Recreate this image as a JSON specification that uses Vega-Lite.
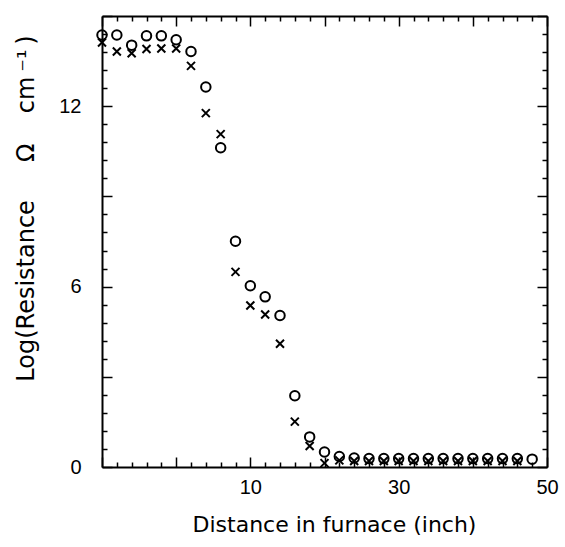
{
  "$schema": "https://vega.github.io/schema/vega-lite/v6.json",
  "width": 445,
  "height": 451,
  "autosize": {"type": "none"},
  "padding": {"left": 102, "top": 16, "right": 18, "bottom": 80},
  "background": "white",
  "config": {
    "view": {"stroke": null},
    "font": "Liberation Sans",
    "axis": {
      "grid": false,
      "domainColor": "black",
      "domainWidth": 2,
      "tickColor": "black",
      "tickWidth": 1.5,
      "labelColor": "black",
      "labelFont": "Liberation Sans",
      "labelFontSize": 20,
      "labelOverlap": false,
      "labelFlush": false,
      "labelBound": false,
      "titleColor": "black",
      "titleFont": "DejaVu Sans",
      "titleFontSize": 22,
      "titleFontWeight": "normal"
    }
  },
  "datasets": {
    "circles": [
      {"x": -10, "y": 14.37}, {"x": -8, "y": 14.37}, {"x": -6, "y": 14.03}, {"x": -4, "y": 14.34},
      {"x": -2, "y": 14.34}, {"x": 0, "y": 14.21}, {"x": 2, "y": 13.82}, {"x": 4, "y": 12.64},
      {"x": 6, "y": 10.62}, {"x": 8, "y": 7.51}, {"x": 10, "y": 6.03}, {"x": 12, "y": 5.66},
      {"x": 14, "y": 5.04}, {"x": 16, "y": 2.37}, {"x": 18, "y": 1.0}, {"x": 20, "y": 0.5},
      {"x": 22, "y": 0.35}, {"x": 24, "y": 0.3}, {"x": 26, "y": 0.28}, {"x": 28, "y": 0.28},
      {"x": 30, "y": 0.28}, {"x": 32, "y": 0.28}, {"x": 34, "y": 0.28}, {"x": 36, "y": 0.28},
      {"x": 38, "y": 0.28}, {"x": 40, "y": 0.28}, {"x": 42, "y": 0.28}, {"x": 44, "y": 0.28},
      {"x": 46, "y": 0.28}, {"x": 48, "y": 0.26}
    ],
    "crosses": [
      {"x": -10, "y": 14.12}, {"x": -8, "y": 13.82}, {"x": -6, "y": 13.76}, {"x": -4, "y": 13.9},
      {"x": -2, "y": 13.92}, {"x": 0, "y": 13.92}, {"x": 2, "y": 13.34}, {"x": 4, "y": 11.77},
      {"x": 6, "y": 11.07}, {"x": 8, "y": 6.49}, {"x": 10, "y": 5.37}, {"x": 12, "y": 5.07},
      {"x": 14, "y": 4.1}, {"x": 16, "y": 1.51}, {"x": 18, "y": 0.7}, {"x": 20, "y": 0.13},
      {"x": 22, "y": 0.22}, {"x": 24, "y": 0.2}, {"x": 26, "y": 0.2}, {"x": 28, "y": 0.2},
      {"x": 30, "y": 0.2}, {"x": 32, "y": 0.2}, {"x": 34, "y": 0.2}, {"x": 36, "y": 0.2},
      {"x": 38, "y": 0.2}, {"x": 40, "y": 0.2}, {"x": 42, "y": 0.2}, {"x": 44, "y": 0.2},
      {"x": 46, "y": 0.2}
    ]
  },
  "layer": [
    {
      "data": {"name": "circles"},
      "mark": {"type": "point", "shape": "circle", "filled": false, "stroke": "black", "strokeWidth": 2, "size": 90, "opacity": 1, "clip": false},
      "encoding": {
        "x": {
          "field": "x", "type": "quantitative",
          "scale": {"domain": [-10, 50], "nice": false, "zero": false},
          "axis": {
            "orient": "bottom",
            "values": [-10,-8,-6,-4,-2,0,2,4,6,8,10,12,14,16,18,20,22,24,26,28,30,32,34,36,38,40,42,44,46,48,50],
            "tickSize": {"condition": {"test": "datum.value % 10 === 0", "value": -10}, "value": -5},
            "labelExpr": "datum.value === 10 || datum.value === 30 || datum.value === 50 ? format(datum.value, 'd') : ''",
            "labelPadding": 20,
            "title": "Distance in furnace (inch)",
            "titleX": 232,
            "titlePadding": 12
          }
        },
        "y": {
          "field": "y", "type": "quantitative",
          "scale": {"domain": [0, 15], "nice": false, "zero": true},
          "axis": {
            "orient": "left",
            "values": [0,0.6,1.2,1.8,2.4,3,3.6,4.2,4.8,5.4,6,6.6,7.2,7.8,8.4,9,9.6,10.2,10.8,11.4,12,12.6,13.2,13.8,14.4,15],
            "tickSize": {"condition": {"test": "abs(datum.value / 3 - round(datum.value / 3)) < 0.001", "value": -10}, "value": -5},
            "labelExpr": "abs(datum.value) < 0.01 || abs(datum.value - 6) < 0.01 || abs(datum.value - 12) < 0.01 ? format(datum.value, '.0f') : ''",
            "labelPadding": 31,
            "title": "Log(Resistance\u00a0\u00a0\u00a0\u00a0\u00a0Ω\u00a0\u00a0\u00a0\u00a0cm\u2009⁻¹\u2009)",
            "titleFontSize": 24,
            "titleAngle": -90,
            "titleAlign": "center",
            "titleBaseline": "middle",
            "titleX": -76,
            "titleY": 192
          }
        }
      }
    },
    {
      "data": {"name": "crosses"},
      "mark": {"type": "point", "shape": "M-1,-1L1,1M-1,1L1,-1", "filled": false, "stroke": "black", "strokeWidth": 2, "size": 64, "opacity": 1, "clip": false},
      "encoding": {
        "x": {
          "field": "x", "type": "quantitative",
          "axis": {
            "orient": "top",
            "values": [-10,-8,-6,-4,-2,0,2,4,6,8,10,12,14,16,18,20,22,24,26,28,30,32,34,36,38,40,42,44,46,48,50],
            "tickSize": {"condition": {"test": "datum.value % 10 === 0", "value": -10}, "value": -5},
            "labels": false,
            "title": null
          }
        },
        "y": {
          "field": "y", "type": "quantitative",
          "axis": {
            "orient": "right",
            "values": [0,0.6,1.2,1.8,2.4,3,3.6,4.2,4.8,5.4,6,6.6,7.2,7.8,8.4,9,9.6,10.2,10.8,11.4,12,12.6,13.2,13.8,14.4,15],
            "tickSize": {"condition": {"test": "abs(datum.value / 3 - round(datum.value / 3)) < 0.001", "value": -10}, "value": -5},
            "labels": false,
            "title": null
          }
        }
      }
    }
  ],
  "resolve": {"axis": {"x": "independent", "y": "independent"}}
}
